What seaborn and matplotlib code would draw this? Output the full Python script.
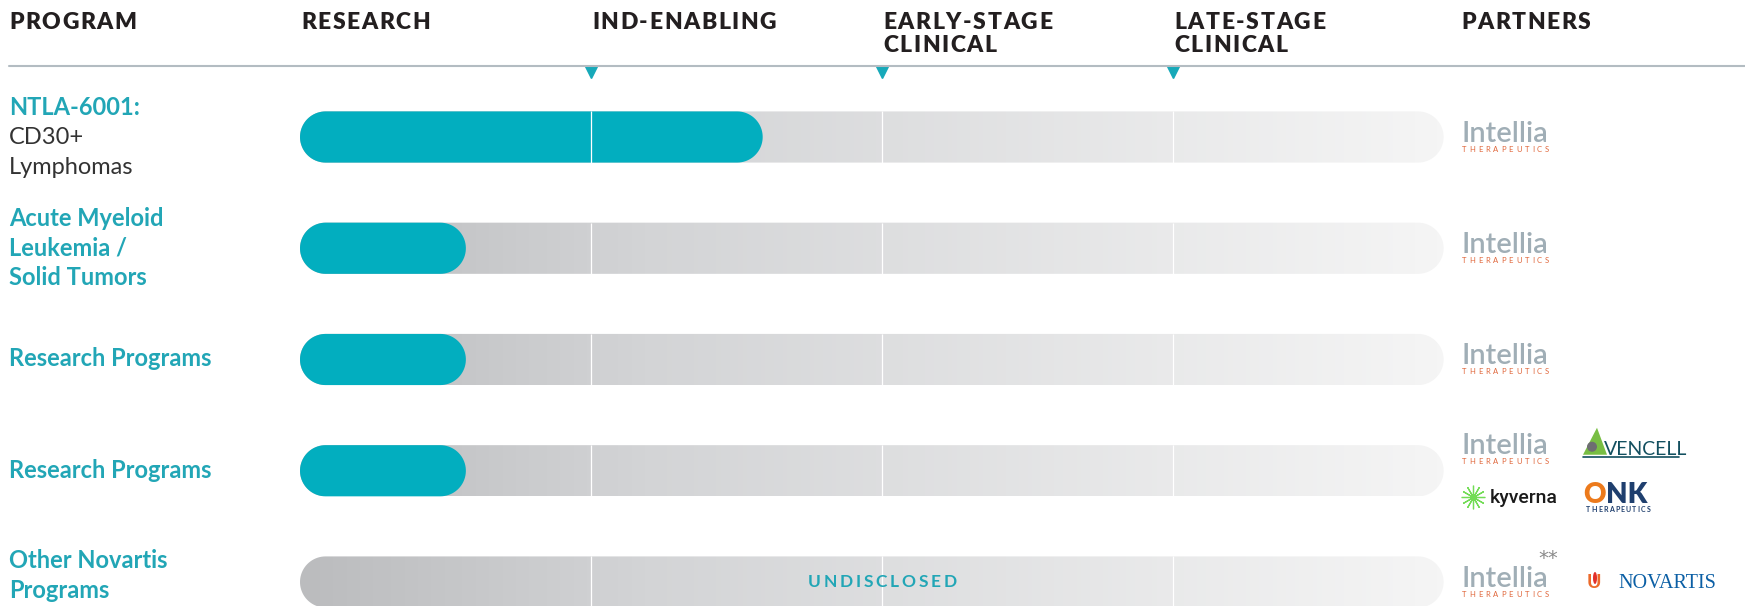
import numpy as np
import pandas as pd
import seaborn as sns
import matplotlib.pyplot as plt
from matplotlib.patches import Polygon, Ellipse, Circle
from matplotlib.lines import Line2D
from matplotlib.colors import LinearSegmentedColormap
from matplotlib.font_manager import FontProperties
from matplotlib.transforms import IdentityTransform, blended_transform_factory

# ---- chart data ----
stage_labels = ["RESEARCH", "IND-ENABLING", "EARLY-STAGE\nCLINICAL", "LATE-STAGE\nCLINICAL"]
row_ids = ["ntla6001", "aml", "research_a", "research_b", "novartis"]
program_names = ["NTLA-6001:", "Acute Myeloid\nLeukemia /\nSolid Tumors", "Research Programs",
                 "Research Programs", "Other Novartis\nPrograms"]
program_notes = ["CD30+\nLymphomas", "", "", "", ""]
progress = [1.59, 0.57, 0.57, 0.57, 0.0]     # stages reached (x units = stages)
track_len = [3.93, 3.93, 3.93, 3.93, 3.93]
status_text = ["", "", "", "", "UNDISCLOSED"]
partners = [["intellia"], ["intellia"], ["intellia"],
            ["intellia", "avencell", "kyverna", "onk"], ["intellia**", "novartis"]]

W, H = 1745, 606
TEAL = "#02aebf"
TEAL_TXT = "#22a6b6"
INK = "#231f20"
FAM = ["Lato", "DejaVu Sans"]

sns.set_theme(style="white")
plt.rcParams["font.family"] = FAM

fig = plt.figure(figsize=(W / 100, H / 100), dpi=100)
renderer = fig.canvas.get_renderer()
ID = IdentityTransform()

# axes: stage 0 starts at 300 px, 291 px per stage; rows 111.25 px apart
x0_px, stage_px, row0_px, row_px = 300, 291, 137, 111.25
ax = fig.add_axes([0, 0, 1, 1 - (row0_px - row_px / 2) / H])
xlim = (-x0_px / stage_px, (W - x0_px) / stage_px)
ylim = ((H - row0_px) / row_px, -0.5)

df = pd.DataFrame({"row": row_ids, "progress": progress, "track": track_len})
sns.barplot(data=df, x="track", y="row", orient="h", width=0.46, color="#cccccc",
            saturation=1, errorbar=None, ax=ax)
sns.barplot(data=df, x="progress", y="row", orient="h", width=0.46, color=TEAL,
            saturation=1, errorbar=None, ax=ax)
ax.set_xlim(*xlim)
ax.set_ylim(*ylim)
ax.axis("off")

px_x = ax.transData.transform((1, 0))[0] - ax.transData.transform((0, 0))[0]
px_y = abs(ax.transData.transform((0, 1))[1] - ax.transData.transform((0, 0))[1])


def capsule(xs, xe, yc, h, rx):
    t = np.linspace(-np.pi / 2, np.pi / 2, 40)
    right = np.column_stack([xe - rx + rx * np.cos(t), yc + h / 2 * np.sin(t)])
    left = np.column_stack([xs + rx - rx * np.cos(t), yc - h / 2 * np.sin(t)])
    return np.vstack([right, left])


track_cmap = LinearSegmentedColormap.from_list(
    "track", [(0, "#bbbcbe"), (0.3, "#d3d4d6"), (1, "#f5f5f5")])
grad = np.linspace(0, 1, 256).reshape(1, -1)

bars = list(ax.patches)
n = len(row_ids)
for p in bars:
    p.remove()

row_geom = []
for p in bars[:n]:
    h = p.get_height()
    yc = p.get_y() + h / 2
    xs, xe = p.get_x(), p.get_x() + p.get_width()
    rx = h / 2 * px_y / px_x
    row_geom.append((yc, h))
    shape = Polygon(capsule(xs, xe, yc, h, rx), closed=True, fc="none", ec="none")
    ax.add_patch(shape)
    im = ax.imshow(grad, cmap=track_cmap, extent=[xs, xe, yc + h / 2, yc - h / 2],
                   aspect="auto", interpolation="bilinear", zorder=1)
    im.set_clip_path(shape)

for p in bars[n:]:
    if p.get_width() <= 0:
        continue
    h = p.get_height()
    yc = p.get_y() + h / 2
    rx = h / 2 * px_y / px_x
    ax.add_patch(Polygon(capsule(p.get_x(), p.get_x() + p.get_width(), yc, h, rx),
                         closed=True, fc=TEAL, ec="none", zorder=2))

# white stage dividers across each bar
for yc, h in row_geom:
    ax.vlines([1, 2, 3], yc - h / 2, yc + h / 2, colors="white", lw=0.9, zorder=3)


def spaced_text(x, y_top, s, gap, ha="left", size=15, weight="bold", color=INK, family=FAM):
    fp = FontProperties(family=family, weight=weight, size=size)
    widths = [renderer.get_text_width_height_descent(ch, fp, ismath=False)[0] for ch in s]
    total = sum(widths) + gap * (len(s) - 1)
    cur = x - total / 2 if ha == "center" else x
    for ch, w in zip(s, widths):
        fig.text(cur, H - y_top, ch, fontproperties=fp, transform=ID,
                 va="baseline", ha="left", color=color)
        cur += w + gap


def data_px(x):
    return ax.transData.transform((x, 0))[0]


# ---- header ----
HDR = dict(size=16.5, weight="heavy")
spaced_text(9, 29, "PROGRAM", 1.6, **HDR)
for i, lab in enumerate(stage_labels):
    for j, line in enumerate(lab.split("\n")):
        spaced_text(data_px(i) + 1, 29 + 23.5 * j, line, 1.6, **HDR)
spaced_text(data_px(3.99), 29, "PARTNERS", 1.6, **HDR)
fig.add_artist(Line2D([9, W], [H - 66, H - 66], transform=ID, color="#b3bcc2", lw=1.5))
tri = blended_transform_factory(ax.transData, ID)
ax.plot([1, 2, 3], [H - 71.5] * 3, marker="v", ls="none", ms=8.5, color="#17a9b9",
        transform=tri, clip_on=False)

# ---- row labels ----
for i in range(n):
    c = H - ax.transData.transform((0, i))[1]
    lines = [(t, TEAL_TXT, "bold") for t in program_names[i].split("\n")]
    if program_notes[i]:
        lines += [(t, "#333333", "normal") for t in program_notes[i].split("\n")]
    m = len(lines)
    shift = -6 if m == 2 else 0
    for k, (t, col, wt) in enumerate(lines):
        base = c + 7 + shift + (k - (m - 1) / 2) * 29.5
        fig.text(9, H - base, t, transform=ID, va="baseline", ha="left",
                 fontsize=17, fontweight=wt, color=col)
    if status_text[i]:
        spaced_text(data_px(2), c + 5, status_text[i], 2.8, ha="center", size=12.5,
                    color=TEAL_TXT)


# ---- partner logos ----
def intellia(x, b, stars=False):
    fig.text(x, H - b, "Intellia", transform=ID, va="baseline", fontsize=21,
             fontweight="semibold", color="#a0aeb6")
    spaced_text(x + 1, b + 10, "THERAPEUTICS", 2.9, size=5.5, weight="normal",
                color="#e0663a")
    if stars:
        fig.text(x + 77, H - b + 23, "**", transform=ID, va="baseline", fontsize=14,
                 color="#8a8a8a", family=["DejaVu Sans"])


def avencell(x, b):
    fig.add_artist(Polygon([[x, H - b], [x + 24, H - b], [x + 14, H - b + 27]], closed=True,
                           fc="#78be43", ec="none", transform=ID))
    fig.add_artist(Circle((x + 9, H - b + 8), 5, fc="#6d6e71", ec="none", transform=ID))
    fig.text(x + 21, H - b, "VENCELL", transform=ID, va="baseline", fontsize=14,
             color="#124f5f")
    fig.add_artist(Line2D([x, x + 96], [H - b - 2, H - b - 2], transform=ID,
                          color="#124f5f", lw=1.2))


def kyverna(x, b):
    fig.add_artist(Line2D([x + 12], [H - b + 6], marker=(12, 2, 0), ms=17, mew=0.9,
                          color="#72dc55", transform=ID))
    fig.text(x + 29, H - b, "kyverna", transform=ID, va="baseline", fontsize=14,
             fontweight="medium", color="#1a1a1a", family=["Roboto", "DejaVu Sans"])


def onk(x, b):
    fp = FontProperties(family=FAM, weight="heavy", size=20)
    fig.text(x, H - b, "O", transform=ID, va="baseline", fontproperties=fp, color="#ec7a1c")
    w = renderer.get_text_width_height_descent("O", fp, ismath=False)[0]
    fig.text(x + w + 1, H - b, "NK", transform=ID, va="baseline", fontproperties=fp,
             color="#1f3f6e")
    spaced_text(x + 3, b + 9, "THERAPEUTICS", 1.2, size=5, weight="bold", color="#1f3f6e")


def novartis(x, b):
    fig.text(x, H - b, "U", transform=ID, va="baseline", fontsize=14, fontweight="bold",
             color="#ec6a2a")
    fig.add_artist(Ellipse((x + 8, H - b + 10), 4, 12, fc="#e2302a", ec="none", transform=ID))
    fig.text(x + 31, H - b, "NOVARTIS", transform=ID, va="baseline", fontsize=14.5,
             color="#0b5fa5", family=["Liberation Serif", "DejaVu Serif"])


logo_funcs = {"intellia": intellia, "intellia**": lambda x, b: intellia(x, b, True),
              "avencell": avencell, "kyverna": kyverna, "onk": onk, "novartis": novartis}
slots = {1: [(1461, 5)], 2: [(1461, 5), (1587, 6)],
         4: [(1461, -17), (1583, -16), (1461, 32), (1583, 32)]}

for i, names in enumerate(partners):
    c = H - ax.transData.transform((0, i))[1]
    for name, (sx, dy) in zip(names, slots[len(names)]):
        logo_funcs[name](sx, c + dy)

ax.set_xlim(*xlim)
ax.set_ylim(*ylim)
fig.savefig("out.png", dpi=100)
